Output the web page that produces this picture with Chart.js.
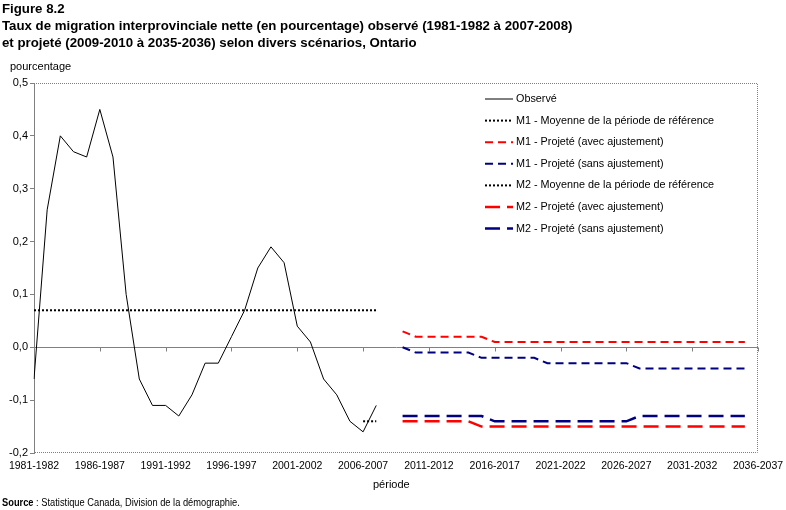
<!DOCTYPE html>
<html lang="fr">
<head>
<meta charset="utf-8">
<script src="https://cdn.jsdelivr.net/npm/chart.js@4.4.1/dist/chart.umd.min.js"></script>
<style>
  html, body { margin: 0; padding: 0; background: #fff; }
  #wrap { position: relative; width: 786px; height: 510px; font-family: "Liberation Sans", Arial, sans-serif; color: #000; }
  #chart { position: absolute; left: 0; top: 0; }
  .txt { position: absolute; white-space: nowrap; }
</style>
</head>
<body>
<div id="wrap">
  <canvas id="chart" width="786" height="510"></canvas>
  <div class="txt" style="left:2px; top:0px; font-weight:bold; font-size:13.25px; line-height:17px;">
    Figure 8.2<br>
    Taux de migration interprovinciale nette (en pourcentage) observé (1981-1982 à 2007-2008)<br>
    et projeté (2009-2010 à 2035-2036) selon divers scénarios, Ontario
  </div>
  <div class="txt" style="left:10px; top:60px; font-size:11px;">pourcentage</div>
  <div class="txt" style="left:373px; top:478px; font-size:11px;">période</div>
  <div class="txt" style="left:2px; top:497px; font-size:10px; transform:scaleX(0.93); transform-origin:0 0;"><b>Source</b> : Statistique Canada, Division de la démographie.</div>
</div>
<script>
// periods 1981-1982 ... 2036-2037
const periods = [];
for (let y = 1981; y <= 2036; y++) periods.push(`${y}-${y + 1}`);

const yTicks = [-0.2, -0.1, 0, 0.1, 0.2, 0.3, 0.4, 0.5];

// observed, 1981-1982 to 2007-2008
const observed = [-0.06, 0.26, 0.40, 0.37, 0.36, 0.45, 0.36, 0.10, -0.06, -0.11,
  -0.11, -0.13, -0.09, -0.03, -0.03, 0.02, 0.07, 0.15, 0.19, 0.16,
  0.04, 0.01, -0.06, -0.09, -0.14, -0.16, -0.11];

// reference period means
const m1RefPeriod = ["1981-1982", "2007-2008"];
const m1RefMean = 0.07;
const m2RefPeriod = ["2006-2007", "2007-2008"];
const m2RefMean = -0.14;

// projections, 2009-2010 to 2035-2036
const projStart = "2009-2010";
const m1Avec = [0.03, 0.02, 0.02, 0.02, 0.02, 0.02, 0.02, 0.01, 0.01, 0.01,
  0.01, 0.01, 0.01, 0.01, 0.01, 0.01, 0.01, 0.01, 0.01, 0.01,
  0.01, 0.01, 0.01, 0.01, 0.01, 0.01, 0.01];
const m1Sans = [0.00, -0.01, -0.01, -0.01, -0.01, -0.01, -0.02, -0.02, -0.02, -0.02,
  -0.02, -0.03, -0.03, -0.03, -0.03, -0.03, -0.03, -0.03, -0.04, -0.04,
  -0.04, -0.04, -0.04, -0.04, -0.04, -0.04, -0.04];
const m2Avec = [-0.14, -0.14, -0.14, -0.14, -0.14, -0.14, -0.15, -0.15, -0.15, -0.15,
  -0.15, -0.15, -0.15, -0.15, -0.15, -0.15, -0.15, -0.15, -0.15, -0.15,
  -0.15, -0.15, -0.15, -0.15, -0.15, -0.15, -0.15];
const m2Sans = [-0.13, -0.13, -0.13, -0.13, -0.13, -0.13, -0.13, -0.14, -0.14, -0.14,
  -0.14, -0.14, -0.14, -0.14, -0.14, -0.14, -0.14, -0.14, -0.13, -0.13,
  -0.13, -0.13, -0.13, -0.13, -0.13, -0.13, -0.13];

const RED = "#ff0000";
const NAVY = "#000080";
const GREY = "#808080";
const FONT = "'Liberation Sans', Arial, sans-serif";

const toPoints = (vals, start) => {
  const i0 = periods.indexOf(start);
  return vals.map((v, i) => ({ x: periods[i0 + i], y: v }));
};
const refPoints = (range, v) => range.map(p => ({ x: p, y: v }));

// legend drawn inside the plot, top right
const legendPlugin = {
  id: "insideLegend",
  afterDraw(chart) {
    const { ctx } = chart;
    ctx.save();
    ctx.font = `10.8px ${FONT}`;
    ctx.textBaseline = "middle";
    chart.data.datasets.forEach((ds, k) => {
      const y = 99 + k * 21.6;
      ctx.strokeStyle = ds.borderColor;
      ctx.lineWidth = ds.borderWidth;
      ctx.setLineDash(ds.borderDash || []);
      ctx.beginPath();
      ctx.moveTo(485, y);
      ctx.lineTo(513, y);
      ctx.stroke();
      ctx.setLineDash([]);
      ctx.fillStyle = "#000";
      ctx.fillText(ds.label, 516, y);
    });
    ctx.restore();
  }
};

// dotted frame + small ticks along the zero line
const framePlugin = {
  id: "frame",
  beforeDatasetsDraw(chart) {
    const { ctx, chartArea: a, scales: { x, y } } = chart;
    ctx.save();
    ctx.strokeStyle = GREY;
    ctx.lineWidth = 1;
    ctx.setLineDash([1, 1]);
    ctx.beginPath();
    ctx.moveTo(a.left, a.top + 0.5);
    ctx.lineTo(a.right - 0.5, a.top + 0.5);
    ctx.lineTo(a.right - 0.5, a.bottom - 0.5);
    ctx.lineTo(a.left, a.bottom - 0.5);
    ctx.stroke();
    ctx.setLineDash([]);
    const y0 = Math.round(y.getPixelForValue(0)) + 0.5;
    ctx.beginPath();
    periods.forEach((p, i) => {
      if (i % 5 !== 0 || i === 0) return;
      const px = Math.round(x.getPixelForValue(i)) + 0.5;
      ctx.moveTo(px, y0);
      ctx.lineTo(px, y0 + 4);
    });
    ctx.stroke();
    ctx.restore();
  }
};

new Chart(document.getElementById("chart"), {
  type: "line",
  data: {
    labels: periods,
    datasets: [
      {
        label: "Observé",
        data: observed,
        borderColor: "#000",
        borderWidth: 1
      },
      {
        label: "M1 - Moyenne de la période de référence",
        data: refPoints(m1RefPeriod, m1RefMean),
        borderColor: "#000",
        borderWidth: 2,
        borderDash: [2, 2]
      },
      {
        label: "M1 - Projeté (avec ajustement)",
        data: toPoints(m1Avec, projStart),
        borderColor: RED,
        borderWidth: 2,
        borderDash: [8, 5]
      },
      {
        label: "M1 - Projeté (sans ajustement)",
        data: toPoints(m1Sans, projStart),
        borderColor: NAVY,
        borderWidth: 2,
        borderDash: [8, 5]
      },
      {
        label: "M2 - Moyenne de la période de référence",
        data: refPoints(m2RefPeriod, m2RefMean),
        borderColor: "#000",
        borderWidth: 2,
        borderDash: [2, 2]
      },
      {
        label: "M2 - Projeté (avec ajustement)",
        data: toPoints(m2Avec, projStart),
        borderColor: RED,
        borderWidth: 2.5,
        borderDash: [15, 7]
      },
      {
        label: "M2 - Projeté (sans ajustement)",
        data: toPoints(m2Sans, projStart),
        borderColor: NAVY,
        borderWidth: 2.5,
        borderDash: [15, 7]
      }
    ]
  },
  options: {
    responsive: false,
    animation: false,
    layout: { padding: { top: 83, right: 28, bottom: 33, left: 0 } },
    elements: {
      point: { radius: 0, hoverRadius: 0 },
      line: { tension: 0, fill: false, borderCapStyle: "butt" }
    },
    scales: {
      x: {
        type: "category",
        offset: false,
        grid: { display: false, drawTicks: false },
        border: { display: false },
        ticks: {
          autoSkip: false,
          maxRotation: 0,
          minRotation: 0,
          padding: 7,
          color: "#000",
          font: { family: FONT, size: 10.5 },
          callback: (v, i) => (i % 5 === 0 ? periods[i] : "")
        },
        afterFit: s => {
          s.height = 24;
          s.paddingLeft = 0;
          s.paddingRight = 0;
        }
      },
      y: {
        min: -0.2,
        max: 0.5,
        afterBuildTicks: s => { s.ticks = yTicks.map(v => ({ value: v })); },
        grid: {
          color: c => (c.tick && c.tick.value === 0 ? GREY : "transparent"),
          tickColor: GREY,
          tickLength: 4,
          lineWidth: 1
        },
        border: { display: true, color: GREY, width: 1 },
        ticks: {
          padding: 2,
          color: "#000",
          font: { family: FONT, size: 11 },
          callback: v => (Math.abs(v) < 1e-9 ? "0,0" : v.toFixed(1).replace(".", ","))
        },
        afterFit: s => { s.width = 34; }
      }
    },
    plugins: {
      legend: { display: false },
      tooltip: { enabled: false }
    }
  },
  plugins: [framePlugin, legendPlugin]
});
</script>
</body>
</html>
